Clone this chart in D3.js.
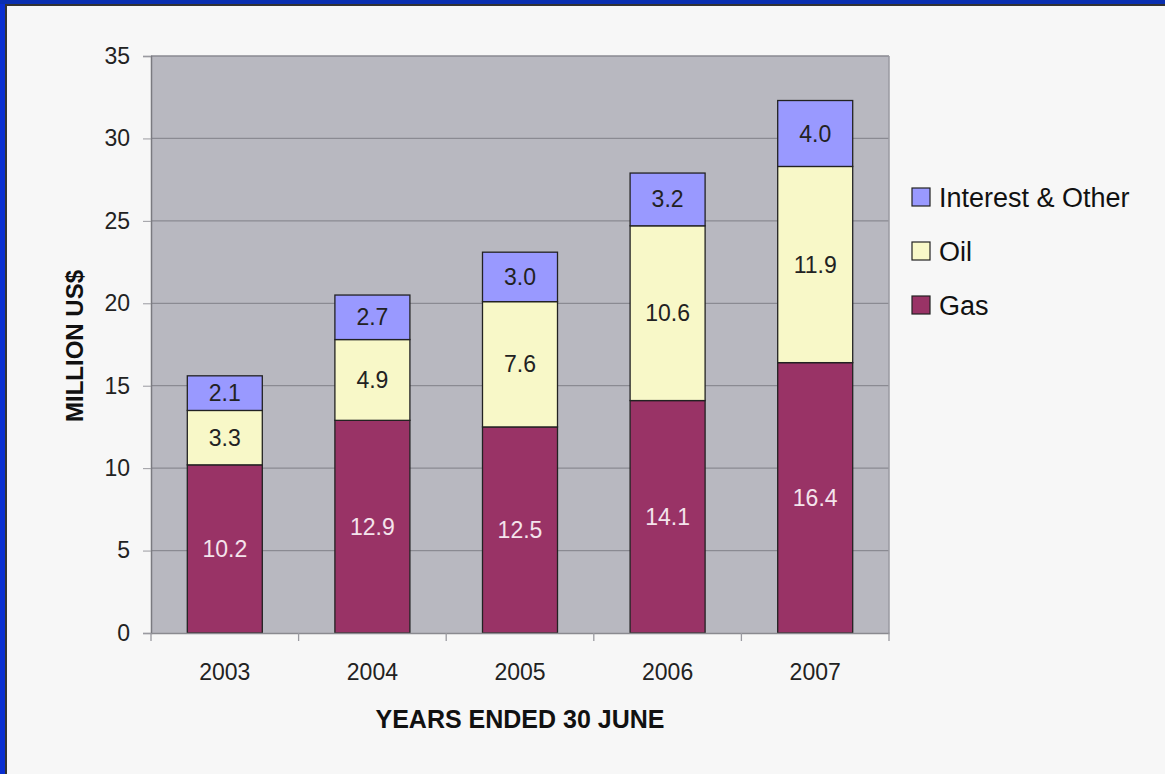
<!DOCTYPE html>
<html>
<head>
<meta charset="utf-8">
<script src="https://cdn.jsdelivr.net/npm/d3@7"></script>
<style>
  body { margin: 0; background: #f7f7f7; }
  svg { display: block; font-family: "Liberation Sans", Arial, sans-serif; }
</style>
</head>
<body>
<div id="chart"></div>
<script>
'use strict';

var years = ["2003", "2004", "2005", "2006", "2007"];
var seriesNames = ["Gas", "Oil", "Interest & Other"];
var gas = [10.2, 12.9, 12.5, 14.1, 16.4];
var oil = [3.3, 4.9, 7.6, 10.6, 11.9];
var interest = [2.1, 2.7, 3.0, 3.2, 4.0];
var yTicks = [0, 5, 10, 15, 20, 25, 30, 35];

var colors = {"Gas": "#993366", "Oil": "#f8f8c8", "Interest & Other": "#9999ff"};
var labelColors = {"Gas": "#f4e4ec", "Oil": "#222", "Interest & Other": "#222"};

var cw = 1165, ch = 774;
var plot = {left: 151, right: 889, top: 56, bottom: 633};

var svg = d3.select("#chart").append("svg")
  .attr("width", cw)
  .attr("height", ch);

svg.append("rect").attr("width", cw).attr("height", ch).attr("fill", "#f7f7f7");

// window frame (left and top edges)
svg.append("rect").attr("x", 0).attr("y", 0).attr("width", 5).attr("height", ch).attr("fill", "#0a2fd0");
svg.append("rect").attr("x", 5).attr("y", 0).attr("width", 2).attr("height", ch).attr("fill", "#333");
svg.append("rect").attr("x", 0).attr("y", 0).attr("width", cw).attr("height", 4).attr("fill", "#0a2fb0");
svg.append("rect").attr("x", 5).attr("y", 4).attr("width", cw).attr("height", 2).attr("fill", "#333");

var x = d3.scaleBand().domain(years).range([plot.left, plot.right]).paddingInner(0).paddingOuter(0);
var y = d3.scaleLinear().domain([0, 35]).range([plot.bottom, plot.top]);

// plot area
svg.append("rect")
  .attr("x", plot.left).attr("y", plot.top)
  .attr("width", plot.right - plot.left).attr("height", plot.bottom - plot.top)
  .attr("fill", "#b8b8c0");

// gridlines
svg.append("g").selectAll("line")
  .data(yTicks.slice(1))
  .enter().append("line")
  .attr("x1", plot.left).attr("x2", plot.right)
  .attr("y1", function(d) { return y(d); }).attr("y2", function(d) { return y(d); })
  .attr("stroke", "#8a8a92").attr("stroke-width", 1.3);

// right edge of plot area
svg.append("line")
  .attr("x1", plot.right).attr("x2", plot.right)
  .attr("y1", plot.top).attr("y2", plot.bottom)
  .attr("stroke", "#9a9aa2").attr("stroke-width", 1.5);

// stacked bars
var table = years.map(function(yr, i) {
  return {year: yr, "Gas": gas[i], "Oil": oil[i], "Interest & Other": interest[i]};
});
var stack = d3.stack().keys(seriesNames)(table);

var barW = 75;
var layers = svg.append("g").selectAll("g")
  .data(stack)
  .enter().append("g");

layers.selectAll("rect")
  .data(function(d) { return d.map(function(p) { p.key = d.key; return p; }); })
  .enter().append("rect")
  .attr("x", function(d) { return x(d.data.year) + x.bandwidth() / 2 - barW / 2; })
  .attr("width", barW)
  .attr("y", function(d) { return y(d[1]); })
  .attr("height", function(d) { return y(d[0]) - y(d[1]); })
  .attr("fill", function(d) { return colors[d.key]; })
  .attr("stroke", "#222")
  .attr("stroke-width", 1.3);

layers.selectAll("text")
  .data(function(d) { return d.map(function(p) { p.key = d.key; return p; }); })
  .enter().append("text")
  .attr("x", function(d) { return x(d.data.year) + x.bandwidth() / 2; })
  .attr("y", function(d) { return (y(d[0]) + y(d[1])) / 2; })
  .attr("dy", "0.35em")
  .attr("text-anchor", "middle")
  .attr("font-size", 23)
  .attr("fill", function(d) { return labelColors[d.key]; })
  .text(function(d) { return (d[1] - d[0]).toFixed(1); });

// y axis
var yAxis = svg.append("g")
  .attr("transform", "translate(" + plot.left + ",0)")
  .call(d3.axisLeft(y).tickValues(yTicks).tickSize(8).tickPadding(13));
yAxis.select(".domain").attr("stroke", "#7a7a80").attr("stroke-width", 1.5);
yAxis.selectAll(".tick line").attr("stroke", "#9a9aa0");
yAxis.selectAll("text").attr("font-size", 23).attr("fill", "#222").attr("font-family", "Liberation Sans, Arial, sans-serif");

// x axis
var xAxis = svg.append("g")
  .attr("transform", "translate(0," + plot.bottom + ")")
  .call(d3.axisBottom(x).tickSize(0).tickPadding(31));
xAxis.select(".domain").attr("stroke", "#8a8a90").attr("stroke-width", 1.5);
xAxis.selectAll("text").attr("font-size", 23).attr("fill", "#222").attr("font-family", "Liberation Sans, Arial, sans-serif");

// category separator ticks
var sepPos = years.map(function(yr) { return x(yr); }).concat([plot.right]);
svg.append("g").selectAll("line")
  .data(sepPos)
  .enter().append("line")
  .attr("x1", function(d) { return d; }).attr("x2", function(d) { return d; })
  .attr("y1", plot.bottom).attr("y2", plot.bottom + 8)
  .attr("stroke", "#9a9aa0").attr("stroke-width", 1.3);

// axis titles
svg.append("text")
  .attr("x", 520)
  .attr("y", 728)
  .attr("text-anchor", "middle")
  .attr("font-size", 25)
  .attr("font-weight", "bold")
  .attr("fill", "#111")
  .text("YEARS ENDED 30 JUNE");

svg.append("text")
  .attr("transform", "translate(83,346) rotate(-90)")
  .attr("text-anchor", "middle")
  .attr("font-size", 24)
  .attr("font-weight", "bold")
  .attr("fill", "#111")
  .text("MILLION US$");

// legend
var legend = svg.append("g")
  .selectAll("g")
  .data(seriesNames.slice().reverse())
  .enter().append("g")
  .attr("transform", function(d, i) { return "translate(912," + (188 + i * 54) + ")"; });

legend.append("rect")
  .attr("width", 18).attr("height", 18)
  .attr("fill", function(d) { return colors[d]; })
  .attr("stroke", "#222").attr("stroke-width", 1.2);

legend.append("text")
  .attr("x", 27).attr("y", 9)
  .attr("dy", "0.36em")
  .attr("font-size", 27)
  .attr("fill", "#111")
  .text(function(d) { return d; });
</script>
</body>
</html>
